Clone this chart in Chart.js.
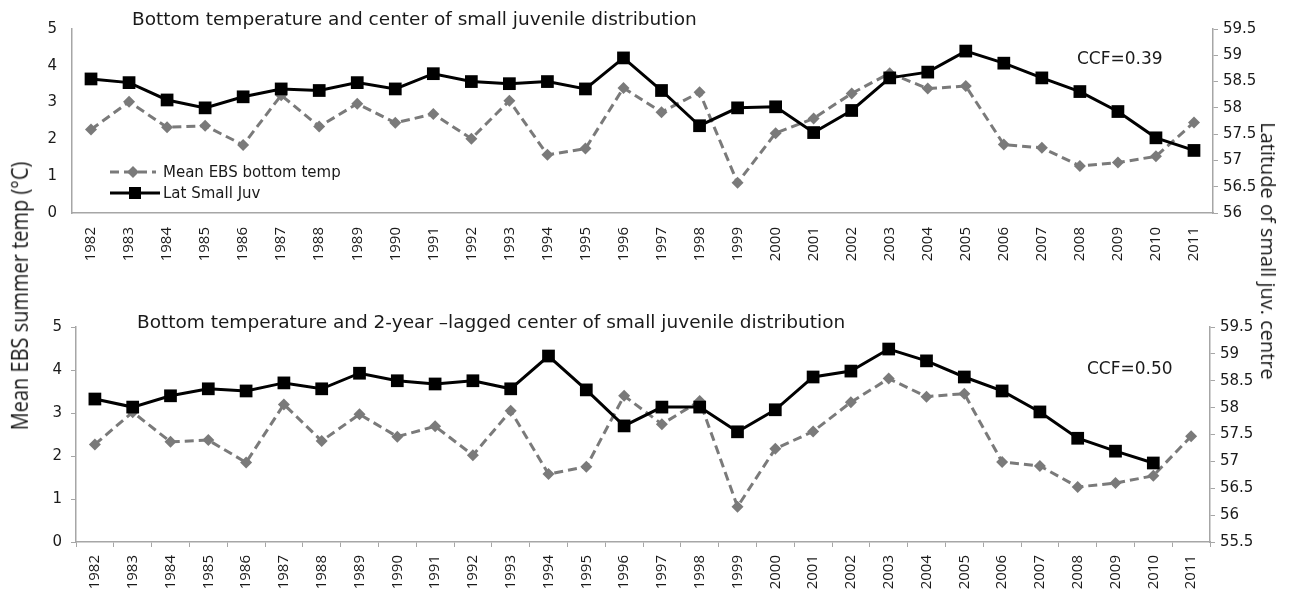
<!DOCTYPE html>
<html>
<head>
<meta charset="utf-8">
<script src="https://cdn.jsdelivr.net/npm/chart.js@4.4.0/dist/chart.umd.min.js"></script>
<style>
  body { margin: 0; background: #fff; }
  #wrap { position: relative; width: 1289px; height: 594px; overflow: hidden; font-family: "DejaVu Sans", sans-serif; color: #1a1a1a; }
  .panel { position: absolute; left: 0; width: 1289px; }
  #p1 { top: 0; height: 290px; }
  #p2 { top: 290px; height: 304px; }
  .txt { position: absolute; white-space: nowrap; line-height: 20px; }
  .title { font-size: 18.5px; }
  .ccf { font-size: 17px; }
  .axt { font-family: "Open Sans", sans-serif; font-size: 20px; transform-origin: center; }
  .leg { font-size: 15px; display: flex; align-items: center; }
  .leg svg { margin-right: 3px; }
</style>
</head>
<body>
<div id="wrap">
  <div class="panel" id="p1"><canvas id="topChart"></canvas></div>
  <div class="panel" id="p2"><canvas id="bottomChart"></canvas></div>

  <div class="txt title" style="left:132px; top:9px;">Bottom temperature and center of small juvenile distribution</div>
  <div class="txt title" style="left:137px; top:312px;">Bottom temperature and 2-year –lagged center of small juvenile distribution</div>
  <div class="txt ccf" style="left:1077px; top:48px;">CCF=0.39</div>
  <div class="txt ccf" style="left:1087px; top:358px;">CCF=0.50</div>

  <div class="txt leg" style="left:110px; top:162px;">
    <svg width="50" height="16"><line x1="0" y1="8" x2="46" y2="8" stroke="#7a7a7a" stroke-width="3" stroke-dasharray="9,5"/><polygon points="23,2 29,8 23,14 17,8" fill="#7a7a7a"/></svg>Mean EBS bottom temp
  </div>
  <div class="txt leg" style="left:110px; top:183px;">
    <svg width="50" height="16"><line x1="0" y1="8" x2="50" y2="8" stroke="#000" stroke-width="3"/><rect x="19" y="2" width="12" height="12" fill="#000"/></svg>Lat Small Juv
  </div>

  <div class="txt axt" id="leftTitle" style="left:20px; top:296px;">Mean EBS summer temp (°C)</div>
  <div class="txt axt" id="rightTitle" style="left:1268px; top:251px;">Latitude of small juv. centre</div>
</div>

<script>
// Years on the x axis
const years = ["1982", "1983", "1984", "1985", "1986", "1987", "1988", "1989", "1990", "1991",
  "1992", "1993", "1994", "1995", "1996", "1997", "1998", "1999", "2000", "2001",
  "2002", "2003", "2004", "2005", "2006", "2007", "2008", "2009", "2010", "2011"];

// Mean EBS summer bottom temperature (°C), same in both panels
const tempC = [2.27, 3.02, 2.33, 2.37, 1.85, 3.2, 2.35, 2.97, 2.45, 2.69,
  2.02, 3.05, 1.58, 1.75, 3.4, 2.74, 3.28, 0.82, 2.17, 2.57,
  3.25, 3.8, 3.38, 3.45, 1.86, 1.77, 1.28, 1.37, 1.54, 2.46];

// Latitude of small juvenile centre
const latSmallJuv = [58.55, 58.48, 58.15, 58.0, 58.21, 58.36, 58.33, 58.48, 58.36, 58.65,
  58.5, 58.46, 58.5, 58.36, 58.95, 58.33, 57.66, 58.0, 58.02, 57.53,
  57.95, 58.57, 58.68, 59.08, 58.85, 58.57, 58.31, 57.93, 57.43, 57.19];

// Same, lagged two years
const latSmallJuvLag2 = [58.16, 58.01, 58.22, 58.35, 58.31, 58.46, 58.35, 58.64, 58.5, 58.44,
  58.5, 58.35, 58.96, 58.33, 57.66, 58.01, 58.01, 57.55, 57.96, 58.57,
  58.68, 59.09, 58.87, 58.57, 58.31, 57.92, 57.43, 57.19, 56.97, null];

const tempTicks = { min: 0, max: 5, step: 1 };
const latTicksTop = { min: 56, max: 59.5, step: 0.5 };
const latTicksBottom = { min: 55.5, max: 59.5, step: 0.5 };

const axisGray = "#a6a6a6";
const tickFont = { family: "DejaVu Sans", size: 15 };
const yearFont = { family: "Open Sans", size: 15 };

// the rotated axis titles (left one is a bit wider in the picture)
document.getElementById("leftTitle").style.transform = "translate(-50%, -50%) scaleX(1.15) rotate(-90deg)";
document.getElementById("rightTitle").style.transform = "translate(-50%, -50%) rotate(90deg)";

function makePanel(canvasId, latData, latTicks, box) {
  const ctx = document.getElementById(canvasId).getContext("2d");
  return new Chart(ctx, {
    type: "line",
    data: {
      labels: years,
      datasets: [
        {
          label: "Lat Small Juv",
          data: latData,
          yAxisID: "y1",
          order: 0,
          borderColor: "#000",
          borderWidth: 3,
          pointStyle: "rect",
          pointRadius: 9,
          pointBackgroundColor: "#000",
          pointBorderWidth: 0,
          tension: 0,
        },
        {
          label: "Mean EBS bottom temp",
          data: tempC,
          yAxisID: "y",
          order: 1,
          borderColor: "#7a7a7a",
          borderWidth: 3,
          borderDash: [9, 5],
          pointStyle: "rectRot",
          pointRadius: 6,
          pointBackgroundColor: "#7a7a7a",
          pointBorderWidth: 0,
          tension: 0,
        },
      ],
    },
    options: {
      responsive: true,
      maintainAspectRatio: false,
      animation: false,
      layout: { padding: { top: box.top, left: 0, right: 0, bottom: 0 } },
      plugins: { legend: { display: false }, tooltip: { enabled: false } },
      scales: {
        x: {
          offset: true,
          grid: { display: true, drawOnChartArea: false, drawTicks: box.xTicks, tickLength: 5, offset: true, color: axisGray },
          border: { color: axisGray, width: 1.5 },
          ticks: { font: yearFont, color: "#1a1a1a", minRotation: 90, maxRotation: 90, padding: box.xPad, autoSkip: false },
          afterFit: (scale) => { scale.height = box.xHeight; },
        },
        y: {
          position: "left",
          min: tempTicks.min,
          max: tempTicks.max,
          grid: { display: true, drawOnChartArea: false, drawTicks: box.yTicks, tickLength: 5, color: axisGray },
          border: { color: axisGray, width: 1.5 },
          ticks: { stepSize: tempTicks.step, font: tickFont, color: "#1a1a1a", padding: box.yPad },
          afterFit: (scale) => { scale.width = box.left; },
        },
        y1: {
          position: "right",
          min: latTicks.min,
          max: latTicks.max,
          grid: { display: true, drawOnChartArea: false, drawTicks: true, tickLength: 5, color: axisGray },
          border: { color: axisGray, width: 1.5 },
          ticks: { stepSize: latTicks.step, font: tickFont, color: "#1a1a1a", padding: 5, callback: (v) => String(v) },
          afterFit: (scale) => { scale.width = box.right; },
        },
      },
    },
  });
}

makePanel("topChart", latSmallJuv, latTicksTop, {
  top: 29, xHeight: 77, left: 72, right: 76, xTicks: false, yTicks: false, xPad: 14, yPad: 15,
});
makePanel("bottomChart", latSmallJuvLag2, latTicksBottom, {
  top: 37, xHeight: 52, left: 76, right: 79, xTicks: true, yTicks: true, xPad: 8, yPad: 9,
});
</script>
</body>
</html>
